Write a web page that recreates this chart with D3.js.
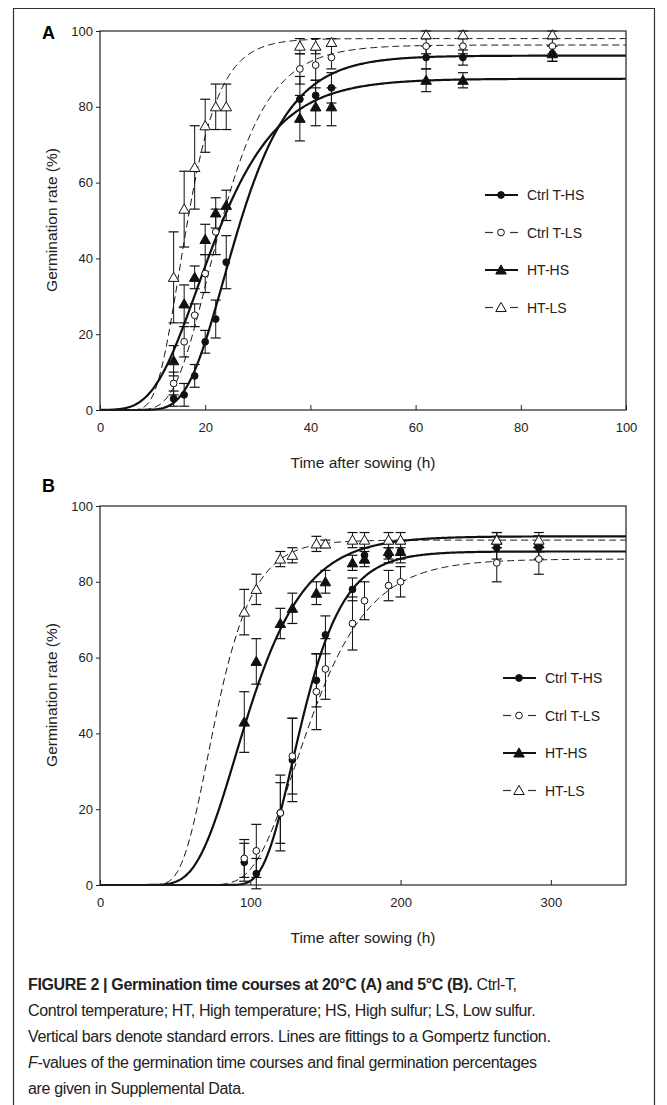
<!DOCTYPE html>
<html>
<head>
<meta charset="utf-8">
<script src="https://cdn.jsdelivr.net/npm/d3@7/dist/d3.min.js"></script>
<style>
  body { margin: 0; background: #fff; }
  svg { font-family: "Liberation Sans", Arial, sans-serif; }
  .caption { position: absolute; left: 28px; top: 972px; width: 630px; font-family: "Liberation Sans", Arial, sans-serif;
    font-size: 16px; line-height: 26px; color: #222; letter-spacing: -0.35px; white-space: nowrap; }
</style>
</head>
<body>
<svg width="667" height="1105"></svg>
<div class="caption"><b>FIGURE 2 | Germination time courses at 20°C (A) and 5°C (B).</b> Ctrl-T,<br>Control temperature; HT, High temperature; HS, High sulfur; LS, Low sulfur.<br>Vertical bars denote standard errors. Lines are fittings to a Gompertz function.<br><i>F</i>-values of the germination time courses and final germination percentages<br>are given in Supplemental Data.</div>
<script>
// series names, legend order
const seriesNames = ['Ctrl T-HS', 'Ctrl T-LS', 'HT-HS', 'HT-LS'];

// panel A (20 °C)
const timesA = [14, 16, 18, 20, 22, 24, 38, 41, 44, 62, 69, 86];
const meansA = [
  [3, 4, 9, 18, 24, 39, 82, 83, 85, 93, 93, 94],
  [7, 18, 25, 36, 47, null, 90, 91, 93, 96, 96, 96],
  [13, 28, 35, 45, 52, 54, 77, 80, 80, 87, 87, 94],
  [35, 53, 64, 75, 80, 80, 96, 96, 97, 99, 99, 99]
];
const errsA = [
  [2, 3, 3, 3, 5, 7, 6, 4, 4, 3, 2, 2],
  [3, 4, 3, 5, 6, 0, 4, 4, 3, 2, 2, 2],
  [4, 5, 3, 4, 4, 4, 6, 5, 5, 3, 2, 2],
  [12, 10, 11, 7, 6, 6, 2, 2, 1, 1, 1, 1]
];
// Gompertz fits: [asymptote, rate k, inflection t]
const fitsA = [[93.5, 0.143, 23.5], [96.3, 0.157, 20.5], [87.4, 0.12, 18.5], [98, 0.237, 15]];

// panel B (5 °C)
const timesB = [96, 104, 120, 128, 144, 150, 168, 176, 192, 200, 264, 292];
const meansB = [
  [6, 3, 19, 33, 54, 66, 78, 87, 87, 88, 89, 89],
  [7, 9, 19, 34, 51, 57, 69, 75, 79, 80, 85, 86],
  [43, 59, 69, 73, 77, 80, 85, 86, 88, 88, 91, 90],
  [72, 78, 86, 87, 90, 90, 91, 91, 91, 91, 91, 91]
];
const errsB = [
  [5, 4, 8, 11, 7, 5, 3, 2, 2, 3, 3, 3],
  [5, 7, 10, 10, 10, 8, 7, 5, 4, 4, 5, 4],
  [8, 6, 4, 4, 3, 3, 2, 2, 2, 2, 2, 2],
  [6, 4, 2, 2, 2, 1, 2, 2, 2, 2, 2, 2]
];
const fitsB = [[88, 0.053, 128], [86, 0.037, 130], [92, 0.039, 90], [91, 0.059, 71.5]];

const yTicks = [0, 20, 40, 60, 80, 100];
const xTicksA = [0, 20, 40, 60, 80, 100];
const xTicksB = [0, 100, 200, 300];

const svg = d3.select('svg');

// outer frame
svg.append('path').attr('d', 'M13.5,1105 V8.5 H654.5 V1105')
  .attr('fill', 'none').attr('stroke', '#333').attr('stroke-width', 1.2);

const filled = [true, false, true, false];
const dashed = [false, true, false, true];
const shapes = [d3.symbolCircle, d3.symbolCircle, d3.symbolTriangle, d3.symbolTriangle];

function gompertz(f, t) { return f[0] * Math.exp(-Math.exp(-f[1] * (t - f[2]))); }

function marker(g, i, x, y) {
  g.append('path')
    .attr('d', d3.symbol().type(shapes[i]).size(i < 2 ? 36 : 48)())
    .attr('transform', `translate(${x},${y + (i >= 2 ? 1 : 0)})`)
    .attr('fill', filled[i] ? '#111' : '#fff')
    .attr('stroke', '#111').attr('stroke-width', 1);
}

function panel(o) {
  const g = svg.append('g');
  const x = d3.scaleLinear().domain([0, o.xmax]).range([100, 626]);
  const y = d3.scaleLinear().domain([0, 100]).range([o.y0, o.y0 - 379]);

  // fitted curves
  const ts = d3.range(0, o.xmax + 0.01, o.xmax / 400);
  o.fits.forEach((f, i) => {
    g.append('path')
      .attr('d', d3.line().x(t => x(t)).y(t => y(gompertz(f, t)))(ts))
      .attr('fill', 'none').attr('stroke', '#111')
      .attr('stroke-width', dashed[i] ? 1 : 2.2)
      .attr('stroke-dasharray', dashed[i] ? '7,4' : null);
  });

  // error bars and points
  o.means.forEach((m, i) => {
    m.forEach((v, j) => {
      if (v == null) return;
      const cx = x(o.times[j]);
      const e = o.errs[i][j];
      if (e > 0) {
        g.append('line').attr('x1', cx).attr('x2', cx).attr('y1', y(v - e)).attr('y2', y(Math.min(v + e, 101)))
          .attr('stroke', '#111').attr('stroke-width', 1);
        [v - e, Math.min(v + e, 101)].forEach(b => g.append('line')
          .attr('x1', cx - 5).attr('x2', cx + 5).attr('y1', y(b)).attr('y2', y(b))
          .attr('stroke', '#111').attr('stroke-width', 1.2));
      }
    });
  });
  o.means.forEach((m, i) => m.forEach((v, j) => { if (v != null) marker(g, i, x(o.times[j]), y(v)); }));

  // frame
  g.append('rect').attr('x', 100).attr('y', o.y0 - 379).attr('width', 526).attr('height', 379)
    .attr('fill', 'none').attr('stroke', '#222').attr('stroke-width', 1.2);

  const xa = g.append('g').attr('transform', `translate(0,${o.y0})`)
    .call(d3.axisBottom(x).tickValues(o.xticks).tickSizeInner(-5).tickSizeOuter(0).tickPadding(13));
  const ya = g.append('g').attr('transform', 'translate(100,0)')
    .call(d3.axisLeft(y).tickValues(yTicks).tickSizeInner(4).tickSizeOuter(0).tickPadding(3));
  [xa, ya].forEach(a => {
    a.select('.domain').remove();
    a.selectAll('text').attr('font-size', 13).attr('fill', '#222')
      .attr('font-family', '"Liberation Sans", Arial, sans-serif');
    a.selectAll('line').attr('stroke', '#222');
  });

  g.append('text').attr('x', 363).attr('y', o.y0 + 58).attr('text-anchor', 'middle')
    .attr('font-size', 15.5).attr('fill', '#222').text('Time after sowing (h)');
  g.append('text').attr('transform', `translate(57,${o.y0 - 190}) rotate(-90)`).attr('text-anchor', 'middle')
    .attr('font-size', 15.5).attr('fill', '#222').text('Germination rate (%)');
  g.append('text').attr('x', 42).attr('y', o.letterY).attr('font-size', 18).attr('font-weight', 'bold')
    .text(o.letter);

  // legend
  seriesNames.forEach((s, i) => {
    const ly = o.leg[1] + i * 37.5;
    const lx = o.leg[0];
    if (dashed[i]) {
      g.append('line').attr('x1', lx).attr('x2', lx + 8).attr('y1', ly).attr('y2', ly).attr('stroke', '#333').attr('stroke-width', 1.2);
      g.append('line').attr('x1', lx + 25).attr('x2', lx + 33).attr('y1', ly).attr('y2', ly).attr('stroke', '#333').attr('stroke-width', 1.2);
    } else {
      g.append('line').attr('x1', lx).attr('x2', lx + 33).attr('y1', ly).attr('y2', ly).attr('stroke', '#111').attr('stroke-width', 2.2);
    }
    marker(g, i, lx + 16, ly);
    g.append('text').attr('x', lx + 42).attr('y', ly + 5).attr('font-size', 14).attr('fill', '#222').text(s);
  });
}

panel({ xmax: 100, y0: 410, times: timesA, means: meansA, errs: errsA, fits: fitsA, xticks: xTicksA,
  letter: 'A', letterY: 39, leg: [485, 195] });
panel({ xmax: 350, y0: 885, times: timesB, means: meansB, errs: errsB, fits: fitsB, xticks: xTicksB,
  letter: 'B', letterY: 492, leg: [503, 678] });
</script>
</body>
</html>
